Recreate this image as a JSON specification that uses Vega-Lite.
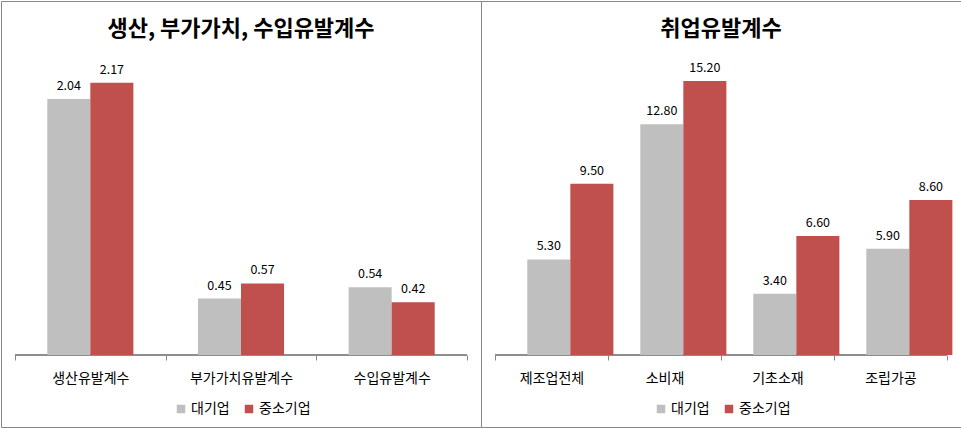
{
  "$schema": "https://vega.github.io/schema/vega-lite/v6.json",
  "padding": 0,
  "spacing": 0,
  "bounds": "flush",
  "background": "white",
  "config": {
    "font": "Noto Sans CJK KR",
    "view": {"stroke": "#868686", "strokeWidth": 1},
    "axisX": {
      "domain": false,
      "grid": false,
      "ticks": true,
      "tickBand": "extent",
      "tickSize": 5,
      "tickColor": "#868686",
      "labelFontSize": 14,
      "labelColor": "#000000",
      "labelPadding": 18,
      "labelBaseline": "middle",
      "labelAngle": 0,
      "title": null,
      "offset": -72
    },
    "legend": {
      "orient": "none",
      "direction": "horizontal",
      "title": null,
      "symbolType": "square",
      "symbolSize": 72,
      "symbolStrokeWidth": 0,
      "labelFontSize": 14,
      "labelColor": "#000000",
      "labelOffset": 3,
      "columnPadding": 12,
      "padding": 0
    }
  },
  "datasets": {
    "left": [
      {"cat": "생산유발계수", "group": "대기업", "value": 2.04},
      {"cat": "생산유발계수", "group": "중소기업", "value": 2.17},
      {"cat": "부가가치유발계수", "group": "대기업", "value": 0.45},
      {"cat": "부가가치유발계수", "group": "중소기업", "value": 0.57},
      {"cat": "수입유발계수", "group": "대기업", "value": 0.54},
      {"cat": "수입유발계수", "group": "중소기업", "value": 0.42}
    ],
    "right": [
      {"cat": "제조업전체", "group": "대기업", "value": 5.3},
      {"cat": "제조업전체", "group": "중소기업", "value": 9.5},
      {"cat": "소비재", "group": "대기업", "value": 12.8},
      {"cat": "소비재", "group": "중소기업", "value": 15.2},
      {"cat": "기초소재", "group": "대기업", "value": 3.4},
      {"cat": "기초소재", "group": "중소기업", "value": 6.6},
      {"cat": "조립가공", "group": "대기업", "value": 5.9},
      {"cat": "조립가공", "group": "중소기업", "value": 8.6}
    ]
  },
  "resolve": {"legend": {"color": "independent"}},
  "hconcat": [
    {
      "width": 480,
      "height": 426,
      "data": {"name": "left"},
      "title": {"text": "생산, 부가가치, 수입유발계수", "fontSize": 22, "fontWeight": "bold", "color": "#000000", "anchor": "middle", "offset": -40},
      "encoding": {
        "x": {"field": "cat", "type": "nominal", "sort": null, "scale": {"paddingInner": 0, "paddingOuter": 0.0929}}
      },
      "layer": [
        {
          "mark": {"type": "rect", "fill": null, "stroke": "#868686", "strokeWidth": 1},
          "encoding": {
            "y": {"datum": 0, "type": "quantitative", "axis": null},
            "y2": {"datum": 0}
          }
        },
        {
          "mark": {"type": "bar"},
          "encoding": {
            "xOffset": {"field": "group", "type": "nominal", "sort": ["대기업", "중소기업"], "scale": {"paddingInner": 0, "paddingOuter": 0.75}},
            "y": {"field": "value", "type": "quantitative", "axis": null, "scale": {"domain": [-0.5737, 2.8207], "nice": false, "zero": false}},
            "color": {"field": "group", "type": "nominal", "scale": {"domain": ["대기업", "중소기업"], "range": ["#BFBFBF", "#C0504D"]}, "legend": {"legendX": 173, "legendY": 401}}
          }
        },
        {
          "mark": {"type": "text", "dy": -9, "baseline": "alphabetic", "fontSize": 12.5, "color": "#000000"},
          "encoding": {
            "xOffset": {"field": "group", "type": "nominal", "sort": ["대기업", "중소기업"], "scale": {"paddingInner": 0, "paddingOuter": 0.75}},
            "y": {"field": "value", "type": "quantitative", "axis": null},
            "text": {"field": "value", "type": "quantitative", "format": ".2f"}
          }
        }
      ]
    },
    {
      "width": 480,
      "height": 426,
      "data": {"name": "right"},
      "title": {"text": "취업유발계수", "fontSize": 22, "fontWeight": "bold", "color": "#000000", "anchor": "middle", "offset": -40},
      "encoding": {
        "x": {"field": "cat", "type": "nominal", "sort": null, "scale": {"paddingInner": 0, "paddingOuter": 0.1239}}
      },
      "layer": [
        {
          "mark": {"type": "rect", "fill": null, "stroke": "#868686", "strokeWidth": 1},
          "encoding": {
            "y": {"datum": 0, "type": "quantitative", "axis": null},
            "y2": {"datum": 0}
          }
        },
        {
          "mark": {"type": "bar"},
          "encoding": {
            "xOffset": {"field": "group", "type": "nominal", "sort": ["대기업", "중소기업"], "scale": {"paddingInner": 0, "paddingOuter": 0.766}},
            "y": {"field": "value", "type": "quantitative", "axis": null, "scale": {"domain": [-3.993, 19.634], "nice": false, "zero": false}},
            "color": {"field": "group", "type": "nominal", "scale": {"domain": ["대기업", "중소기업"], "range": ["#BFBFBF", "#C0504D"]}, "legend": {"legendX": 173, "legendY": 401}}
          }
        },
        {
          "mark": {"type": "text", "dy": -9, "baseline": "alphabetic", "fontSize": 12.5, "color": "#000000"},
          "encoding": {
            "xOffset": {"field": "group", "type": "nominal", "sort": ["대기업", "중소기업"], "scale": {"paddingInner": 0, "paddingOuter": 0.766}},
            "y": {"field": "value", "type": "quantitative", "axis": null},
            "text": {"field": "value", "type": "quantitative", "format": ".2f"}
          }
        }
      ]
    }
  ]
}
